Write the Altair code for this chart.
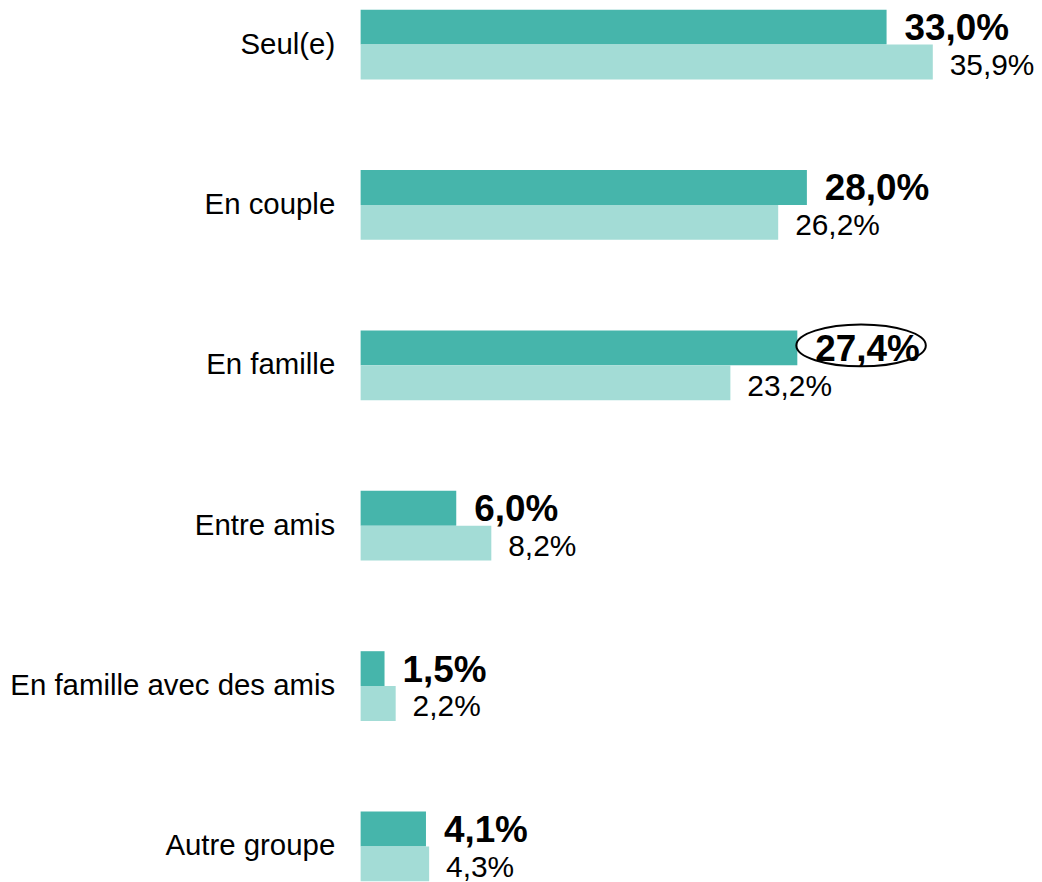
import altair as alt
import pandas as pd

categories = ["Seul(e)", "En couple", "En famille", "Entre amis",
              "En famille avec des amis", "Autre groupe"]
series_names = ["Série 1", "Série 2"]
serie_1 = [33.0, 28.0, 27.4, 6.0, 1.5, 4.1]
serie_2 = [35.9, 26.2, 23.2, 8.2, 2.2, 4.3]
highlight_category = "En famille"
highlight_value = 27.4

DARK = "#46B5AB"
LIGHT = "#A3DCD6"
FONT = "Liberation Sans"


def fmt(v):
    return f"{v:.1f}%".replace(".", ",")


rows = []
for c, a, b in zip(categories, serie_1, serie_2):
    rows.append({"cat": c, "serie": series_names[0], "val": a, "label": fmt(a)})
    rows.append({"cat": c, "serie": series_names[1], "val": b, "label": fmt(b)})
df = pd.DataFrame(rows)

y_enc = alt.Y("cat:N", sort=categories,
              scale=alt.Scale(paddingInner=91 / 161, paddingOuter=0, round=False),
              axis=alt.Axis(title=None, ticks=False, domain=False, grid=False,
                            labelFontSize=29.5, labelColor="black", labelFont=FONT,
                            labelPadding=26, labelLimit=0))
x_enc = alt.X("val:Q", scale=alt.Scale(domain=[0, 40], nice=False), axis=None)
yoff = alt.YOffset("serie:N", sort=series_names, scale=alt.Scale(round=False))

base = alt.Chart(df)

bars = base.mark_bar(cornerRadius=0).encode(
    x=x_enc, y=y_enc, yOffset=yoff,
    color=alt.Color("serie:N", sort=series_names,
                    scale=alt.Scale(domain=series_names, range=[DARK, LIGHT]),
                    legend=None),
)

txt_dark = base.transform_filter(alt.datum.serie == series_names[0]).mark_text(
    align="left", baseline="middle", dx=18, dy=2, fontSize=37,
    fontWeight="bold", font=FONT, color="black"
).encode(x=x_enc, y=y_enc, yOffset=yoff, text="label:N")

txt_light = base.transform_filter(alt.datum.serie == series_names[1]).mark_text(
    align="left", baseline="middle", dx=17, dy=4, fontSize=30,
    font=FONT, color="black"
).encode(x=x_enc, y=y_enc, yOffset=yoff, text="label:N")

ell_df = pd.DataFrame({"cat": [highlight_category], "val": [highlight_value]})
ellipse = alt.Chart(ell_df).mark_point(
    shape="M -1 0 A 1 0.323 0 1 0 1 0 A 1 0.323 0 1 0 -1 0 Z",
    size=16900, filled=False, stroke="black", strokeWidth=2, opacity=1,
    xOffset=64, yOffset=-20
).encode(x=x_enc, y=y_enc)

chart = alt.layer(bars, txt_dark, txt_light, ellipse).properties(
    width=640, height=875,
    padding={"left": 354, "top": 0, "right": 36, "bottom": 0},
    autosize=alt.AutoSizeParams(type="none"),
).configure_view(stroke=None)

chart.save("out.html", embed_options={"renderer": "svg", "actions": False})
